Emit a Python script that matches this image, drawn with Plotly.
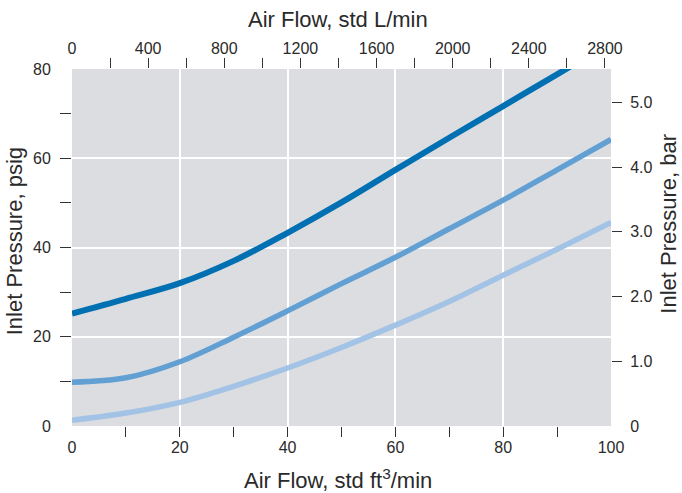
import plotly.graph_objects as go

# Data (x in std ft^3/min, y in psig)
flow_high = [0, 10, 20, 30, 40, 50, 60, 70, 80, 90, 92.5]
psig_high = [25.2, 28.5, 32.0, 37.0, 43.3, 50.1, 57.4, 64.6, 71.7, 78.8, 80.6]

flow_mid = [0, 10, 20, 30, 40, 50, 60, 70, 80, 90, 100]
psig_mid = [9.8, 10.8, 14.4, 19.9, 25.8, 31.9, 37.8, 44.2, 50.6, 57.4, 64.2]

flow_low = [0, 10, 20, 30, 40, 50, 60, 70, 80, 90, 100]
psig_low = [1.3, 2.9, 5.3, 8.9, 13.0, 17.6, 22.6, 27.9, 33.8, 39.6, 45.6]

cfm_ticks = [0, 20, 40, 60, 80, 100]
cfm_minor = [10, 20, 30, 40, 50, 60, 70, 80, 90]
lpm_ticks = [0, 400, 800, 1200, 1600, 2000, 2400, 2800]
lpm_minor = list(range(200, 2801, 200))
psig_ticks = [0, 20, 40, 60, 80]
psig_minor = [10, 20, 30, 40, 50, 60, 70]
bar_ticks = [0, 1, 2, 3, 4, 5]
bar_labels = ["0", "1.0", "2.0", "3.0", "4.0", "5.0"]
bar_minor = [1, 2, 3, 4, 5]

CFM_TO_LPM = 28.3168
PSI_PER_BAR = 14.5038
XMAX, YMAX = 100, 80

TXT = "#2a2a2a"
FONT = "Liberation Sans, Arial, sans-serif"

fig = go.Figure()
fig.add_trace(go.Scatter(x=flow_low, y=psig_low, mode="lines", line=dict(color="#a2c3e5", width=5.5, shape="spline")))
fig.add_trace(go.Scatter(x=flow_mid, y=psig_mid, mode="lines", line=dict(color="#62a0d4", width=5.5, shape="spline")))
fig.add_trace(go.Scatter(x=flow_high, y=psig_high, mode="lines", line=dict(color="#0070b2", width=6, shape="spline")))

# empty traces so the overlay axes get drawn
for xa, ya in [("x2", "y"), ("x3", "y"), ("x4", "y"), ("x5", "y"), ("x", "y2"), ("x", "y3"), ("x", "y4"), ("x", "y5")]:
    fig.add_trace(go.Scatter(x=[], y=[], xaxis=xa, yaxis=ya, hoverinfo="skip"))

tickfont = dict(family=FONT, size=16, color=TXT)
titlefont = dict(family=FONT, size=22, color=TXT)
invis = "rgba(0,0,0,0)"
TC = "#333333"

common = dict(showgrid=False, zeroline=False, automargin=False, tickmode="array")

fig.update_layout(
    width=682, height=493,
    margin=dict(l=72, r=71, t=69, b=67),
    paper_bgcolor="white",
    plot_bgcolor="#dcdde0",
    showlegend=False,
    xaxis=dict(range=[0, XMAX], tickmode="array", tickvals=cfm_ticks[1:-1], showticklabels=False,
               ticks="", showgrid=True, gridcolor="white", gridwidth=1.5, zeroline=False, showline=False,
               automargin=False),
    yaxis=dict(range=[0, YMAX], tickmode="array", tickvals=psig_ticks[1:-1], showticklabels=False,
               ticks="", showgrid=True, gridcolor="white", gridwidth=1.5, zeroline=False, showline=False,
               automargin=False),
    # top labels L/min
    xaxis2=dict(overlaying="x", anchor="y", side="top", range=[0, XMAX * CFM_TO_LPM],
                tickvals=lpm_ticks, ticks="outside", ticklen=8, tickcolor=invis, tickfont=tickfont, **common),
    # bottom labels cfm
    xaxis3=dict(overlaying="x", anchor="y", side="bottom", range=[0, XMAX],
                tickvals=cfm_ticks, ticks="outside", ticklen=7, tickcolor=invis, tickfont=tickfont, **common),
    # bottom minor ticks
    xaxis4=dict(overlaying="x", anchor="y", side="bottom", range=[0, XMAX],
                tickvals=cfm_minor, ticks="outside", ticklen=10, tickwidth=1.3, tickcolor=TC,
                showticklabels=False, **common),
    # top minor ticks
    xaxis5=dict(overlaying="x", anchor="y", side="top", range=[0, XMAX * CFM_TO_LPM],
                tickvals=lpm_minor, ticks="outside", ticklen=10, tickwidth=1.3, tickcolor=TC,
                showticklabels=False, **common),
    # right labels bar
    yaxis2=dict(overlaying="y", anchor="x", side="right", range=[0, YMAX / PSI_PER_BAR],
                tickvals=bar_ticks, ticktext=bar_labels, ticks="outside", ticklen=15, tickcolor=invis,
                tickfont=tickfont, **common),
    # left labels psig
    yaxis3=dict(overlaying="y", anchor="x", side="left", range=[0, YMAX],
                tickvals=psig_ticks, ticks="outside", ticklen=17, tickcolor=invis, tickfont=tickfont, **common),
    # left minor ticks
    yaxis4=dict(overlaying="y", anchor="x", side="left", range=[0, YMAX],
                tickvals=psig_minor, ticks="outside", ticklen=11, tickwidth=1.3, tickcolor=TC,
                showticklabels=False, **common),
    # right minor ticks
    yaxis5=dict(overlaying="y", anchor="x", side="right", range=[0, YMAX / PSI_PER_BAR],
                tickvals=bar_minor, ticks="outside", ticklen=10, tickwidth=1.3, tickcolor=TC,
                showticklabels=False, **common),
)

ann = dict(xref="paper", yref="paper", showarrow=False, font=titlefont, xanchor="center", yanchor="middle")
fig.add_annotation(text="Air Flow, std L/min", x=0.4935, y=1.14, **ann)
fig.add_annotation(text="Air Flow, std ft<sup>3</sup>/min", x=0.4935, y=-0.148, **ann)
fig.add_annotation(text="Inlet Pressure, psig", x=-0.106, y=0.517, textangle=-90, **ann)
fig.add_annotation(text="Inlet Pressure, bar", x=1.106, y=0.567, textangle=-90, **ann)

fig.write_html("out.html", config={"displayModeBar": False},
               post_script="document.body.style.margin='0px';document.body.style.overflow='hidden';")
